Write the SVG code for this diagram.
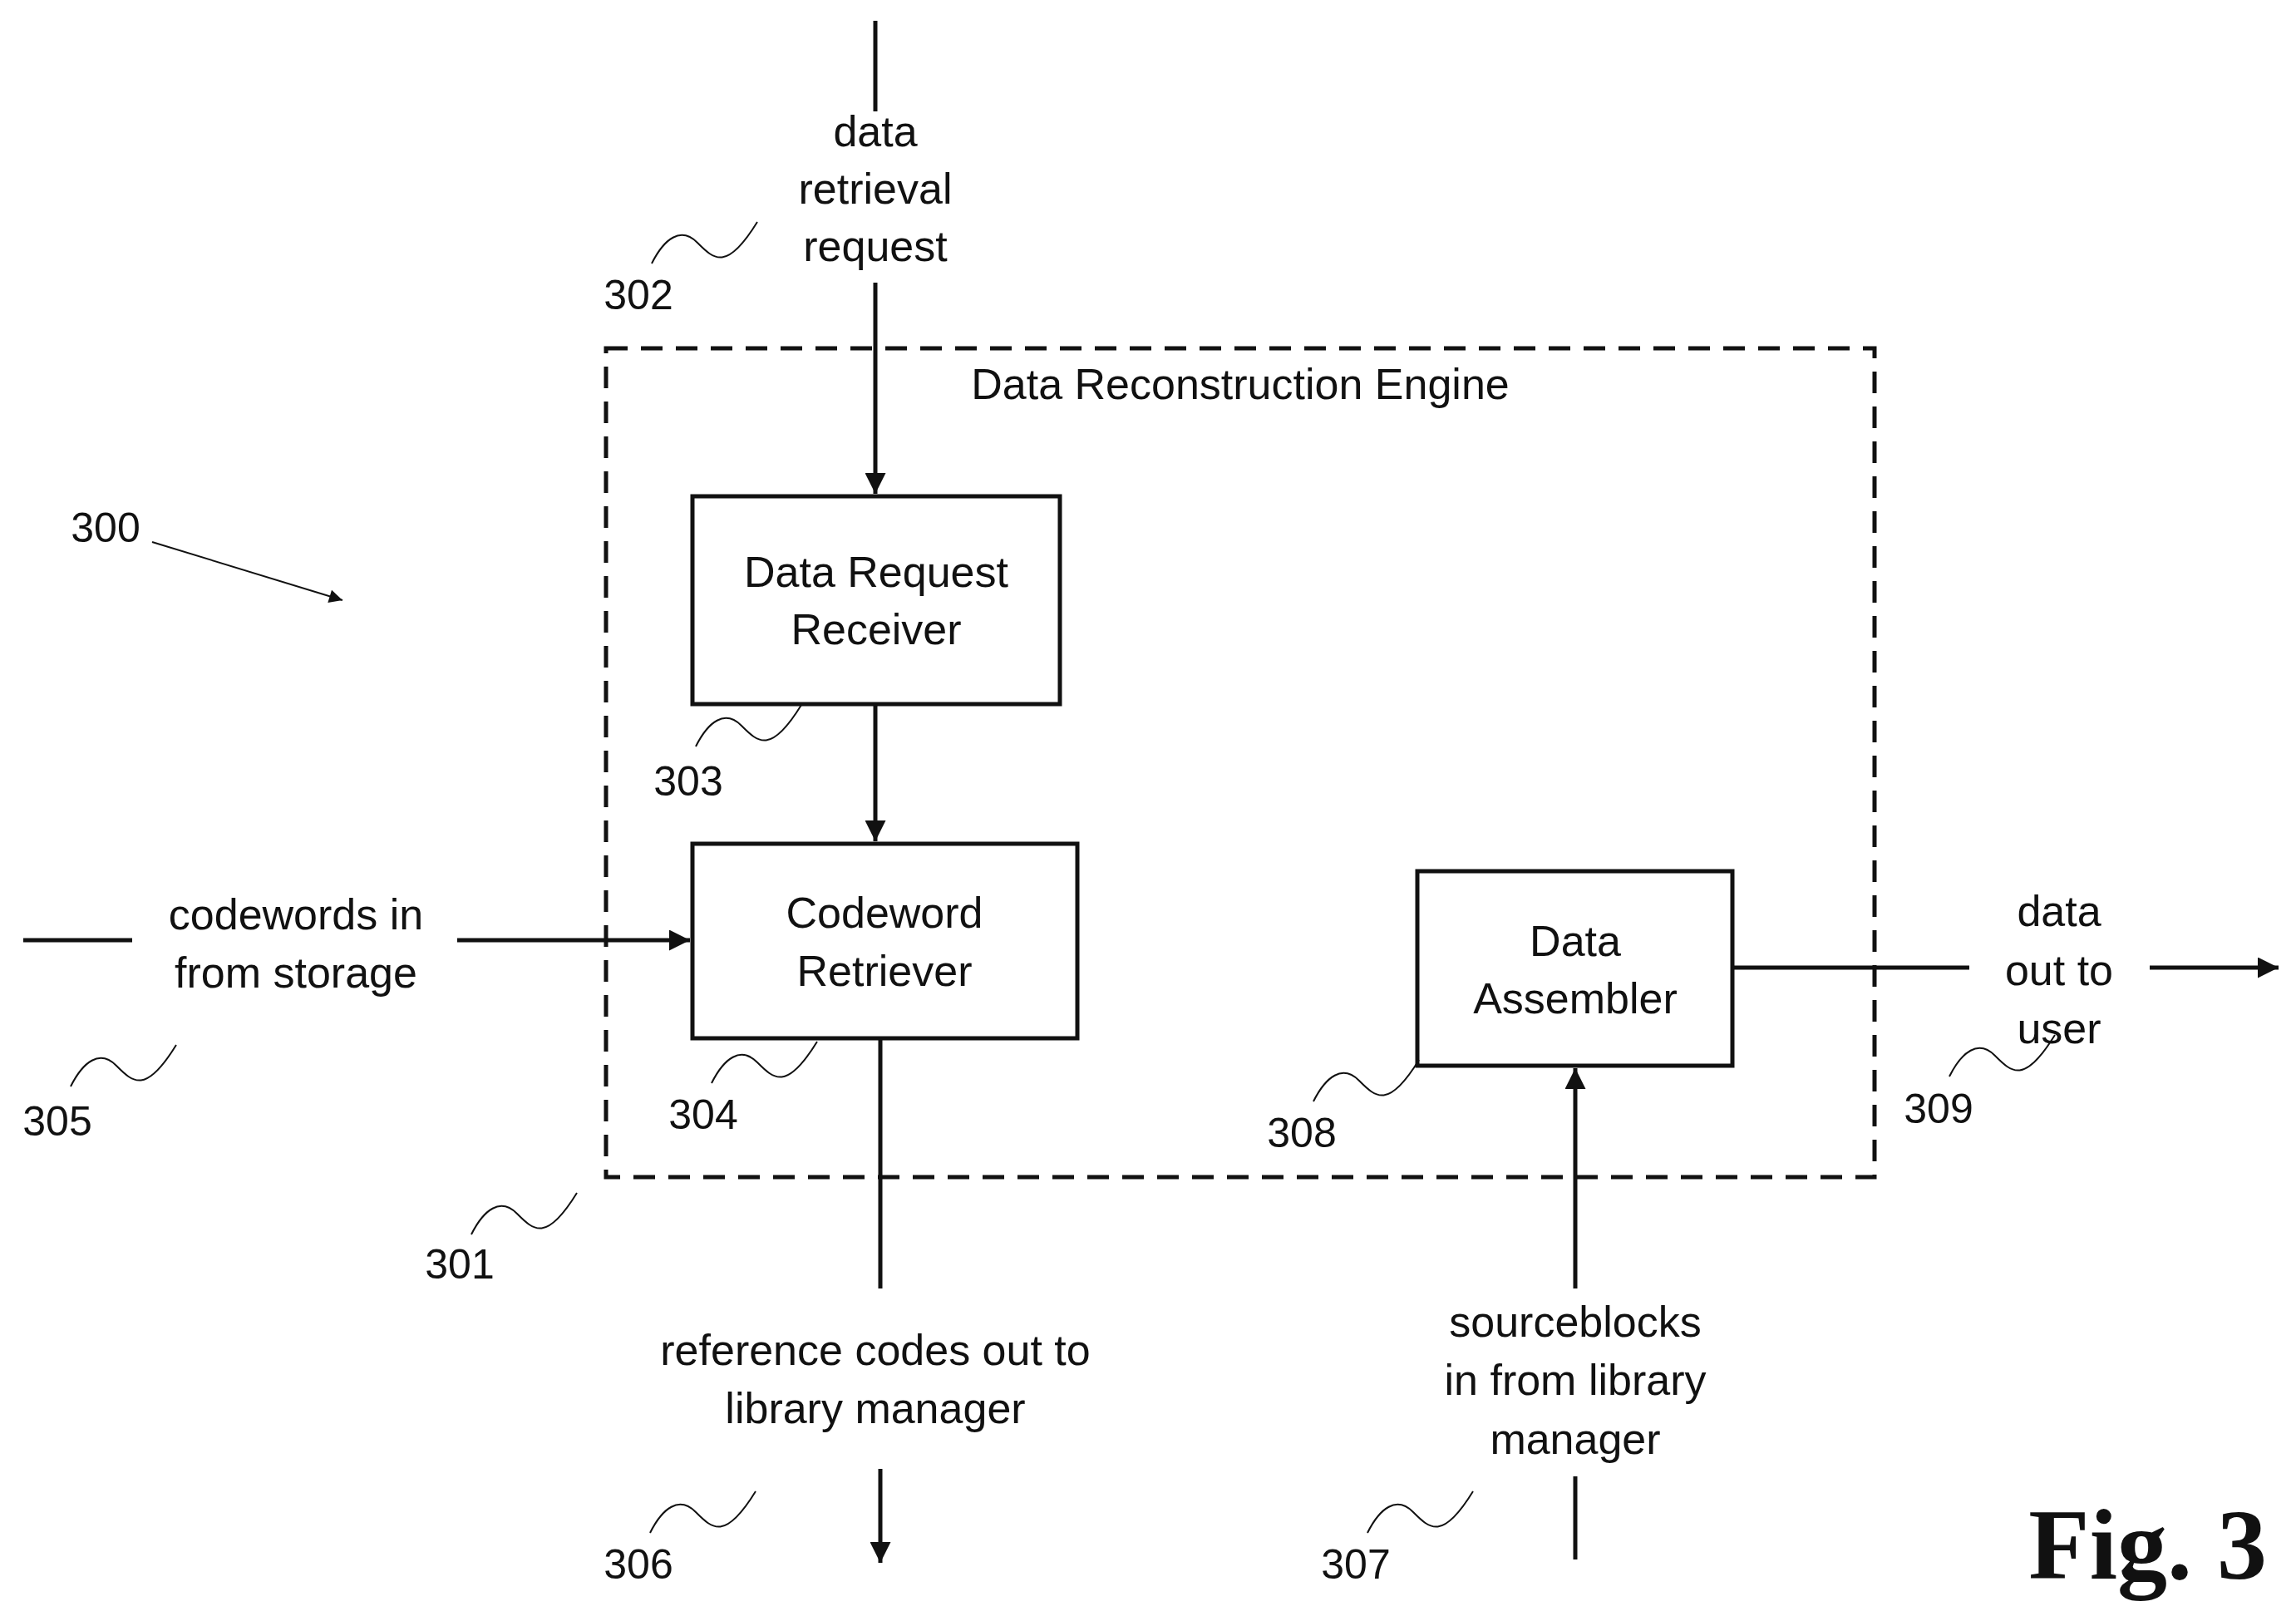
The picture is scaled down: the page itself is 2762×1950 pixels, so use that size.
<svg xmlns="http://www.w3.org/2000/svg" xmlns:xlink="http://www.w3.org/1999/xlink" width="2762" height="1950" viewBox="0 0 2762 1950">
<style>
.t{font-family:"Liberation Sans",Arial,sans-serif;font-size:52px;fill:#111;text-anchor:middle}
.n{font-family:"Liberation Sans",Arial,sans-serif;font-size:50px;fill:#111;text-anchor:middle}
.l{stroke:#111;stroke-width:5;fill:none}
.b{stroke:#111;stroke-width:5;fill:#fff}
.s{stroke:#111;stroke-width:2;fill:none}
</style>
<defs>
<marker id="a" viewBox="0 0 10 10" refX="10" refY="5" markerWidth="5" markerHeight="5" orient="auto" markerUnits="strokeWidth"><path d="M0,0L10,5L0,10z" fill="#111"/></marker>
<marker id="a2" viewBox="0 0 10 10" refX="10" refY="5" markerWidth="10" markerHeight="8" orient="auto" markerUnits="strokeWidth"><path d="M0,0L10,5L0,10z" fill="#111"/></marker>
<path id="sq" d="M0,0 C15,-30 35,-45 55,-25 S90,10 127,-50" class="s"/>
</defs>
<rect id="engine" x="729" y="419" width="1526" height="997" fill="none" stroke="#111" stroke-width="5" stroke-dasharray="26,16"/>
<text class="t" x="1492" y="480">Data Reconstruction Engine</text>
<g id="connectors">
<line class="l" x1="1053" y1="25" x2="1053" y2="134"/>
<line class="l" x1="1053" y1="340" x2="1053" y2="594" marker-end="url(#a)"/>
<line class="l" x1="1053" y1="847" x2="1053" y2="1012" marker-end="url(#a)"/>
<line class="l" x1="28" y1="1131" x2="159" y2="1131"/>
<line class="l" x1="550" y1="1131" x2="830" y2="1131" marker-end="url(#a)"/>
<line class="l" x1="1059" y1="1249" x2="1059" y2="1550"/>
<line class="l" x1="1059" y1="1767" x2="1059" y2="1880" marker-end="url(#a)"/>
<line class="l" x1="1895" y1="1876" x2="1895" y2="1776"/>
<line class="l" x1="1895" y1="1550" x2="1895" y2="1285" marker-end="url(#a)"/>
<line class="l" x1="2084" y1="1164" x2="2369" y2="1164"/>
<line class="l" x1="2586" y1="1164" x2="2741" y2="1164" marker-end="url(#a)"/>
<line x1="183" y1="652" x2="412" y2="722" stroke="#111" stroke-width="2" marker-end="url(#a2)"/>
</g>
<g id="n303"><rect class="b" x="833" y="597" width="442" height="250"/><text class="t" x="1054" y="706">Data Request</text><text class="t" x="1054" y="775">Receiver</text></g>
<g id="n304"><rect class="b" x="833" y="1015" width="463" height="234"/><text class="t" x="1064" y="1116">Codeword</text><text class="t" x="1064" y="1186">Retriever</text></g>
<g id="n308"><rect class="b" x="1705" y="1048" width="379" height="234"/><text class="t" x="1895" y="1150">Data</text><text class="t" x="1895" y="1219">Assembler</text></g>
<g id="labels">
<text class="t" x="1053" y="176">data</text><text class="t" x="1053" y="245">retrieval</text><text class="t" x="1053" y="314">request</text>
<text class="t" x="356" y="1118">codewords in</text><text class="t" x="356" y="1188">from storage</text>
<text class="t" x="1053" y="1642">reference codes out to</text><text class="t" x="1053" y="1712">library manager</text>
<text class="t" x="1895" y="1608">sourceblocks</text><text class="t" x="1895" y="1678">in from library</text><text class="t" x="1895" y="1749">manager</text>
<text class="t" x="2477" y="1114">data</text><text class="t" x="2477" y="1185">out to</text><text class="t" x="2477" y="1255">user</text>
<text class="n" x="127" y="652">300</text>
<text class="n" x="768" y="372">302</text><use xlink:href="#sq" x="784" y="317"/>
<text class="n" x="828" y="957">303</text><use xlink:href="#sq" x="837" y="898"/>
<text class="n" x="846" y="1358">304</text><use xlink:href="#sq" x="856" y="1303"/>
<text class="n" x="69" y="1366">305</text><use xlink:href="#sq" x="85" y="1307"/>
<text class="n" x="553" y="1538">301</text><use xlink:href="#sq" x="567" y="1485"/>
<text class="n" x="1566" y="1380">308</text><use xlink:href="#sq" x="1580" y="1325"/>
<text class="n" x="2332" y="1351">309</text><use xlink:href="#sq" x="2345" y="1295"/>
<text class="n" x="768" y="1899">306</text><use xlink:href="#sq" x="782" y="1844"/>
<text class="n" x="1631" y="1899">307</text><use xlink:href="#sq" x="1645" y="1844"/>
<text x="2727" y="1899" font-family="Liberation Serif,serif" font-weight="bold" font-size="120" text-anchor="end" fill="#111">Fig. 3</text>
</g>
</svg>
